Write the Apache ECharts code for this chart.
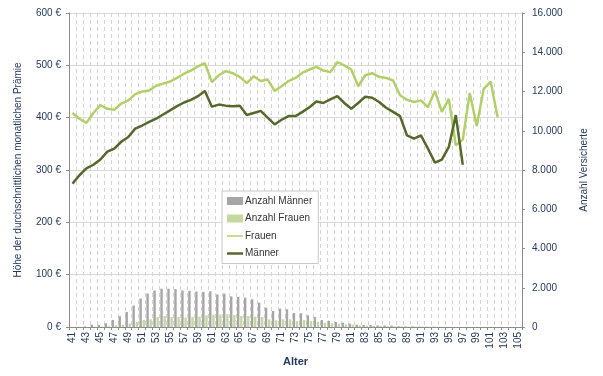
<!DOCTYPE html>
<html>
<head>
<meta charset="utf-8">
<title>Prämie nach Alter</title>
<script src="https://cdn.jsdelivr.net/npm/echarts@6/dist/echarts.min.js"></script>
<style>
  html, body { margin: 0; padding: 0; background: #fff; }
  #chart { width: 603px; height: 376px; }
</style>
</head>
<body>
<div id="chart"></div>
<script>
// Daten
var ages = [];
for (var a = 41; a <= 105; a++) { ages.push('' + a); }

var anzahlMaenner = [5, 10, 30, 120, 100, 190, 360, 550, 770, 1090,
  1450, 1710, 1860, 1950, 1950, 1930, 1860, 1840, 1810, 1790,
  1820, 1665, 1700, 1560, 1530, 1495, 1410, 1240, 985, 815,
  935, 900, 715, 700, 595, 510, 360, 320, 255, 220,
  170, 120, 100, 100, 80, 80, 70, 40, 30, 30,
  25, 20, 15, 10, 8, 5, 3, 2, 1, 1,
  1, 0, 0, 0, 0];

var anzahlFrauen = [0, 2, 5, 15, 20, 40, 85, 120, 170, 255,
  360, 390, 510, 560, 510, 510, 475, 510, 530, 595,
  630, 630, 650, 610, 560, 560, 530, 510, 390, 340,
  390, 390, 300, 360, 300, 270, 220, 190, 170, 135,
  120, 85, 70, 60, 50, 50, 40, 30, 20, 20,
  15, 10, 10, 5, 5, 3, 2, 1, 1, 1,
  1, 1, 0, 0, 0];

var praemieFrauen = [409, 398, 390, 409, 424, 417, 415, 427, 433, 445,
  450, 452, 461, 465, 469, 476, 484, 490, 498, 504,
  468, 481, 489, 485, 478, 466, 479, 470, 473, 451,
  460, 470, 476, 486, 492, 497, 490, 487, 506, 500,
  492, 460, 481, 485, 478, 476, 471, 443, 434, 430,
  433, 420, 451, 411, 436, 347, 358, 447, 384, 455,
  469, 401];

var praemieMaenner = [274, 290, 303, 310, 320, 335, 341, 354, 363, 379,
  385, 392, 398, 406, 414, 422, 429, 434, 441, 451,
  421, 425, 423, 422, 423, 405, 409, 413, 400, 387,
  396, 403, 403, 411, 420, 431, 428, 435, 441, 428,
  417, 428, 440, 438, 430, 419, 411, 403, 366, 360,
  366, 341, 314, 320, 344, 405, 310];

var textColor = '#243a5c';
var fontName = 'Liberation Sans';

function tausender(v) {
  return ('' + v).replace(/\B(?=(\d{3})+(?!\d))/g, '.');
}

var myChart = echarts.init(document.getElementById('chart'));

var option = {
  animation: false,
  textStyle: { fontFamily: fontName },
  grid: { left: 69, right: 81, top: 13, bottom: 49 },
  legend: {
    orient: 'vertical',
    left: 222,
    top: 191,
    padding: [5, 6, 5, 5],
    itemGap: 7.5,
    itemWidth: 16,
    itemHeight: 8,
    borderColor: '#c8c8c8',
    borderWidth: 1,
    borderRadius: 0,
    backgroundColor: '#fff',
    textStyle: { fontSize: 10, color: '#333', fontFamily: fontName, padding: [0, 0, 0, -3] },
    data: [
      { name: 'Anzahl Männer', icon: 'rect' },
      { name: 'Anzahl Frauen', icon: 'rect' },
      { name: 'Frauen', icon: 'path://M0,3.5L16,3.5L16,5L0,5Z' },
      { name: 'Männer', icon: 'path://M0,3L16,3L16,5.5L0,5.5Z' }
    ]
  },
  xAxis: {
    type: 'category',
    data: ages,
    name: 'Alter',
    nameLocation: 'middle',
    nameGap: 28,
    nameTextStyle: { fontSize: 11, fontWeight: 'bold', color: textColor },
    axisLine: { lineStyle: { color: '#8c8c8c' } },
    axisTick: { show: true, interval: 0, length: 3, lineStyle: { color: '#8c8c8c' } },
    axisLabel: { interval: 1, rotate: 90, fontSize: 10, color: textColor, margin: 5 },
    splitLine: { show: true, interval: 0, lineStyle: { color: '#d4d4d4', type: [4, 3] } }
  },
  yAxis: [
    {
      type: 'value',
      min: 0,
      max: 600,
      interval: 100,
      name: 'Höhe der durchschnittlichen monatlichen Prämie',
      nameLocation: 'middle',
      nameGap: 46,
      nameTextStyle: { fontSize: 10, color: textColor },
      axisLine: { show: true, lineStyle: { color: '#8c8c8c' } },
      axisTick: { show: true, length: 3, lineStyle: { color: '#8c8c8c' } },
      axisLabel: { fontSize: 10, color: textColor, formatter: '{value} €' },
      splitLine: { lineStyle: { color: '#d9d9d9' } }
    },
    {
      type: 'value',
      min: 0,
      max: 16000,
      interval: 2000,
      name: 'Anzahl Versicherte',
      nameLocation: 'middle',
      nameGap: 57,
      nameTextStyle: { fontSize: 10, color: textColor },
      axisLine: { show: true, lineStyle: { color: '#8c8c8c' } },
      axisTick: { show: true, length: 3, lineStyle: { color: '#8c8c8c' } },
      axisLabel: { fontSize: 10, color: textColor, margin: 10, formatter: tausender },
      splitLine: { show: false }
    }
  ],
  series: [
    {
      name: 'Anzahl Männer',
      type: 'bar',
      yAxisIndex: 1,
      data: anzahlMaenner,
      barWidth: 2.4,
      barGap: '30%',
      itemStyle: { color: '#a6a6a6' }
    },
    {
      name: 'Anzahl Frauen',
      type: 'bar',
      yAxisIndex: 1,
      data: anzahlFrauen,
      barWidth: 2.4,
      itemStyle: { color: '#c5d89d' }
    },
    {
      name: 'Frauen',
      type: 'line',
      yAxisIndex: 0,
      data: praemieFrauen,
      showSymbol: false,
      symbol: 'none',
      lineStyle: { color: '#b3cf6a', width: 2.5 },
      itemStyle: { color: '#b3cf6a' }
    },
    {
      name: 'Männer',
      type: 'line',
      yAxisIndex: 0,
      data: praemieMaenner,
      showSymbol: false,
      symbol: 'none',
      lineStyle: { color: '#56682c', width: 2.5 },
      itemStyle: { color: '#56682c' }
    }
  ]
};

myChart.setOption(option);
</script>
</body>
</html>
